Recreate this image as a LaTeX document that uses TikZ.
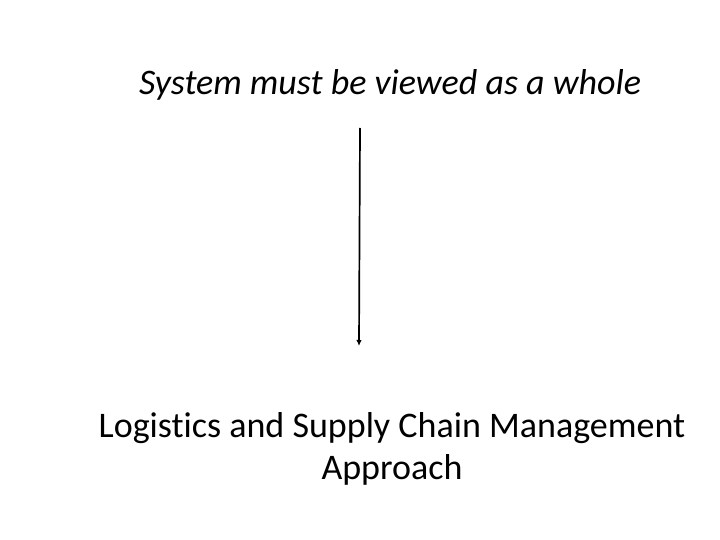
\documentclass[tikz,border=0pt]{standalone}
\usepackage{fontspec}
\setmainfont{Carlito}[Ligatures={NoCommon}]
\usetikzlibrary{arrows.meta,positioning}

\begin{document}
\begin{tikzpicture}[
			x=1pt,y=-1pt,
			label/.style={align=center,inner sep=0pt,font=\fontsize{36}{42}\selectfont},
			arrow/.style={-{Latex[length=6pt,width=5.5pt]},line width=1.7pt}
			]
			\useasboundingbox (0,0) rectangle (720,540);
			\node[label,anchor=base,font=\fontsize{36}{42}\selectfont\itshape] (view) at (390,95) {System must be viewed as a whole};
			\node[label,anchor=base] (approach) at (392,479) {Logistics and Supply Chain Management\\Approach};
			\coordinate (start) at (360,128);
			\coordinate (end) at (359,346);
			\draw[arrow] (start)--(end);
		\end{tikzpicture}
\end{document}
